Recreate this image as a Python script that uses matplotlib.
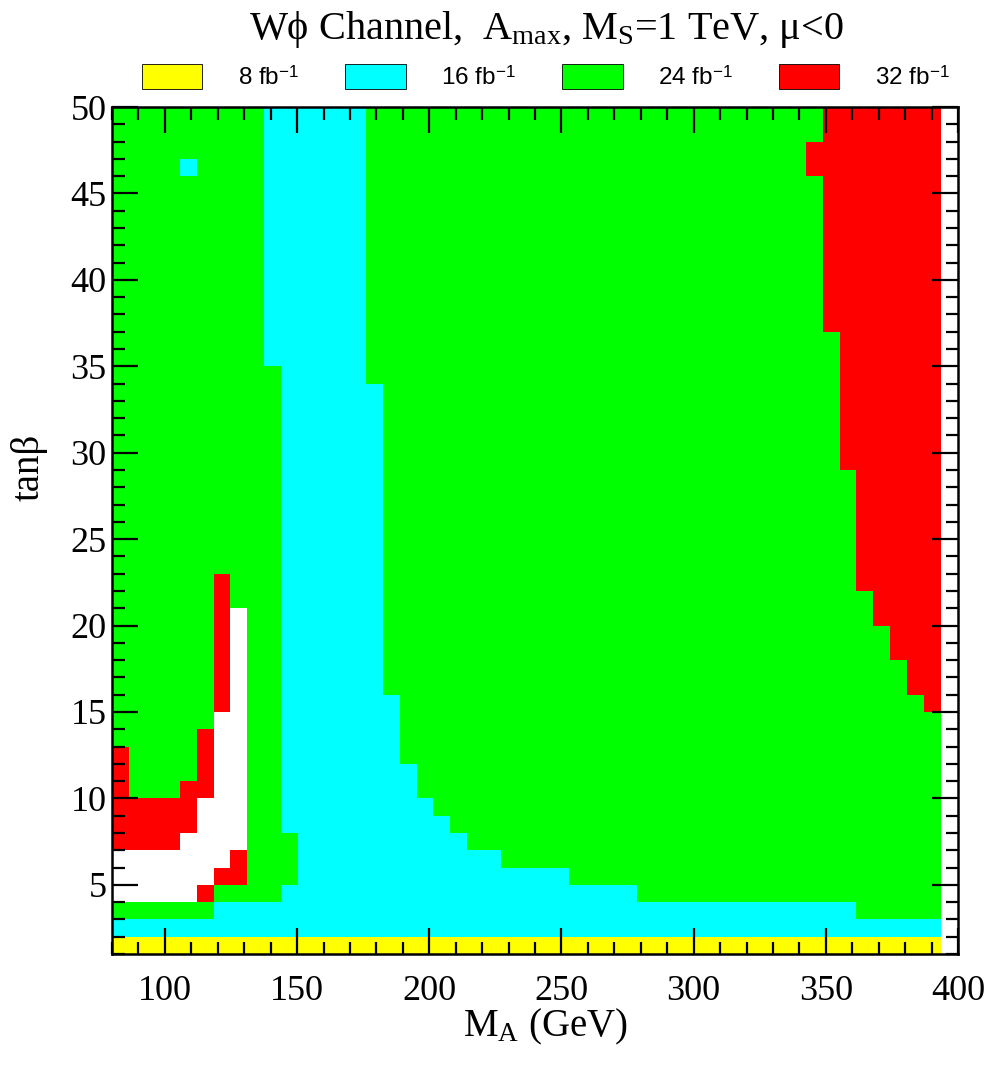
import numpy as np
import matplotlib
matplotlib.use('Agg')
import matplotlib.pyplot as plt
from matplotlib.colors import ListedColormap, BoundaryNorm
from matplotlib.patches import Patch
from matplotlib.ticker import MultipleLocator

plt.rcParams['font.family'] = ['Liberation Serif', 'DejaVu Serif']
plt.rcParams['mathtext.fontset'] = 'custom'
plt.rcParams['mathtext.rm'] = 'Liberation Serif'
plt.rcParams['mathtext.it'] = 'Liberation Serif:italic'
plt.rcParams['mathtext.sf'] = 'Liberation Sans'

# histogram binning: 50 bins in M_A (80-400 GeV), 49 bins in tan(beta) (1-50)
ma_edges = np.linspace(80, 400, 51)
tb_edges = np.arange(1, 51)

# discovery luminosity levels
lumi_labels = [r'8 fb$^{\mathsf{-1}}$', r'16 fb$^{\mathsf{-1}}$',
               r'24 fb$^{\mathsf{-1}}$', r'32 fb$^{\mathsf{-1}}$']
lumi_colors = ['#ffff00', '#00ffff', '#00ff00', '#ff0000']

# every filled M_A bin (0..48) has 8 fb-1 at tanb 1-2, 16 fb-1 from 2 up to
# cyan_top, and 24 fb-1 above that unless overridden below
cyan_top = [3, 3, 3, 3, 3, 3, 4, 4, 4, 4, 5, 50, 50, 50, 50,
            34, 16, 12, 10, 9, 8, 7, 7, 6, 6, 6, 6, 5, 5, 5, 5,
            4, 4, 4, 4, 4, 4, 4, 4, 4, 4, 4, 4, 4,
            3, 3, 3, 3, 3]

# overrides: (level, first bin, last bin, tanb low, tanb high); level 0 = not reached
overrides = [
    (0, 0, 3, 4, 7), (0, 4, 4, 4, 8), (0, 5, 5, 5, 10), (0, 6, 6, 6, 15), (0, 7, 7, 7, 21),
    (4, 0, 0, 7, 13), (4, 1, 3, 7, 10), (4, 4, 4, 8, 11), (4, 5, 5, 10, 14), (4, 5, 5, 4, 5),
    (4, 6, 6, 15, 23), (4, 6, 6, 5, 6), (4, 7, 7, 5, 7),
    (2, 4, 4, 46, 47), (2, 9, 9, 35, 50), (2, 10, 10, 8, 50),
    (4, 41, 41, 46, 48), (4, 42, 42, 37, 50), (4, 43, 43, 29, 50), (4, 44, 44, 22, 50),
    (4, 45, 45, 20, 50), (4, 46, 46, 18, 50), (4, 47, 47, 16, 50), (4, 48, 48, 15, 50),
]

z = np.full((len(tb_edges) - 1, len(ma_edges) - 1), np.nan)
for i, top in enumerate(cyan_top):
    z[0, i] = 1
    z[1:top - 1, i] = 2
    z[top - 1:, i] = 3
for lev, c0, c1, lo, hi in overrides:
    z[lo - 1:hi - 1, c0:c1 + 1] = lev if lev > 0 else np.nan

fig = plt.figure(figsize=(9.9, 10.67), dpi=100)
ax = fig.add_axes([112 / 990, 1 - 954 / 1067, 846 / 990, 847 / 1067])

cmap = ListedColormap(lumi_colors)
norm = BoundaryNorm([0.5, 1.5, 2.5, 3.5, 4.5], cmap.N)
ax.pcolormesh(ma_edges, tb_edges, z, cmap=cmap, norm=norm)

ax.set_xlim(80, 400)
ax.set_ylim(1, 50)
ax.xaxis.set_major_locator(MultipleLocator(50))
ax.xaxis.set_minor_locator(MultipleLocator(10))
ax.yaxis.set_major_locator(MultipleLocator(5))
ax.yaxis.set_minor_locator(MultipleLocator(1))
ax.tick_params(which='both', direction='in', top=True, right=True, width=1.6)
ax.tick_params(which='major', length=18.5, labelsize=26)
ax.tick_params(which='minor', length=9)
ax.tick_params(axis='x', which='major', pad=15)
ax.tick_params(axis='y', which='major', pad=4)
for s in ax.spines.values():
    s.set_linewidth(1.8)

ax.set_xlabel(r'M$_{\rm A}$ (GeV)', fontsize=28)
ax.xaxis.set_label_coords(0.512, -0.062)
ax.set_ylabel('tanβ', fontsize=28)
ax.yaxis.set_label_coords(-0.076, 0.575)

fig.text(0.552, 1 - 39 / 1067, r'Wϕ Channel,  A$_{\rm max}$, M$_{\rm S}$=1 TeV, μ<0',
         fontsize=29, ha='center', va='baseline')

handles = [Patch(facecolor=c, edgecolor='black', linewidth=0.6) for c in lumi_colors]
fig.legend(handles, lumi_labels, loc='center', bbox_to_anchor=(0.551, 1 - 77 / 1067),
           ncol=4, frameon=False, handlelength=2.5, handleheight=1.2,
           handletextpad=1.45, columnspacing=1.9,
           prop={'family': 'Liberation Sans', 'size': 17.5})

fig.savefig('out.png', dpi=100)
